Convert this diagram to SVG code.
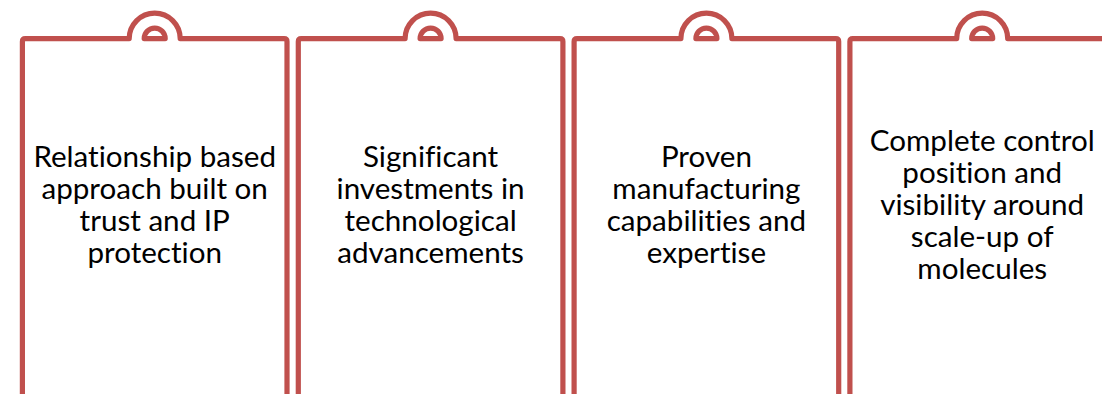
<svg xmlns="http://www.w3.org/2000/svg" width="1102" height="394" viewBox="0 0 1102 394">
  <style>
    .frame { fill: none; stroke: #C0504D; stroke-width: 5.2; stroke-linejoin: round; }
    .label { font-family: Lato, "Open Sans", sans-serif; font-size: 29.6px; fill: #000; text-anchor: middle; font-variant-ligatures: none; }
  </style>
  <rect width="1102" height="394" fill="#FFFFFF"/>
  <g id="connectors"></g>
  <g id="panel1">
    <path class="frame" d="M22.4,400 L22.4,41.5 Q22.4,38.6 25.3,38.6 L129.2,38.6 A25.5,25.5 0 0 1 180.2,38.6 L284.1,38.6 Q287,38.6 287,41.5 L287,400"/>
    <path class="frame" d="M144.2,38.6 A10.5,10.5 0 0 1 165.2,38.6 Z"/>
    <text class="label" x="154.7"><tspan x="154.7" y="167">Relationship based</tspan><tspan x="154.7" y="199">approach built on</tspan><tspan x="154.7" y="231">trust and IP</tspan><tspan x="154.7" y="263">protection</tspan></text>
  </g>
  <g id="panel2">
    <path class="frame" d="M298.3,400 L298.3,41.5 Q298.3,38.6 301.2,38.6 L405.1,38.6 A25.5,25.5 0 0 1 456.1,38.6 L560,38.6 Q562.9,38.6 562.9,41.5 L562.9,400"/>
    <path class="frame" d="M420.1,38.6 A10.5,10.5 0 0 1 441.1,38.6 Z"/>
    <text class="label" x="430.6"><tspan x="430.6" y="167">Significant</tspan><tspan x="430.6" y="199">investments in</tspan><tspan x="430.6" y="231">technological</tspan><tspan x="430.6" y="263">advancements</tspan></text>
  </g>
  <g id="panel3">
    <path class="frame" d="M574.1,400 L574.1,41.5 Q574.1,38.6 577,38.6 L680.9,38.6 A25.5,25.5 0 0 1 731.9,38.6 L835.8,38.6 Q838.7,38.6 838.7,41.5 L838.7,400"/>
    <path class="frame" d="M695.9,38.6 A10.5,10.5 0 0 1 716.9,38.6 Z"/>
    <text class="label" x="706.4"><tspan x="706.4" y="167">Proven</tspan><tspan x="706.4" y="199">manufacturing</tspan><tspan x="706.4" y="231">capabilities and</tspan><tspan x="706.4" y="263">expertise</tspan></text>
  </g>
  <g id="panel4">
    <path class="frame" d="M849.9,400 L849.9,41.5 Q849.9,38.6 852.8,38.6 L956.7,38.6 A25.5,25.5 0 0 1 1007.7,38.6 L1111.6,38.6 Q1114.5,38.6 1114.5,41.5 L1114.5,400"/>
    <path class="frame" d="M971.7,38.6 A10.5,10.5 0 0 1 992.7,38.6 Z"/>
    <text class="label" x="982.2"><tspan x="982.2" y="151">Complete control</tspan><tspan x="982.2" y="183">position and</tspan><tspan x="982.2" y="215">visibility around</tspan><tspan x="982.2" y="247">scale-up of</tspan><tspan x="982.2" y="279">molecules</tspan></text>
  </g>
</svg>
